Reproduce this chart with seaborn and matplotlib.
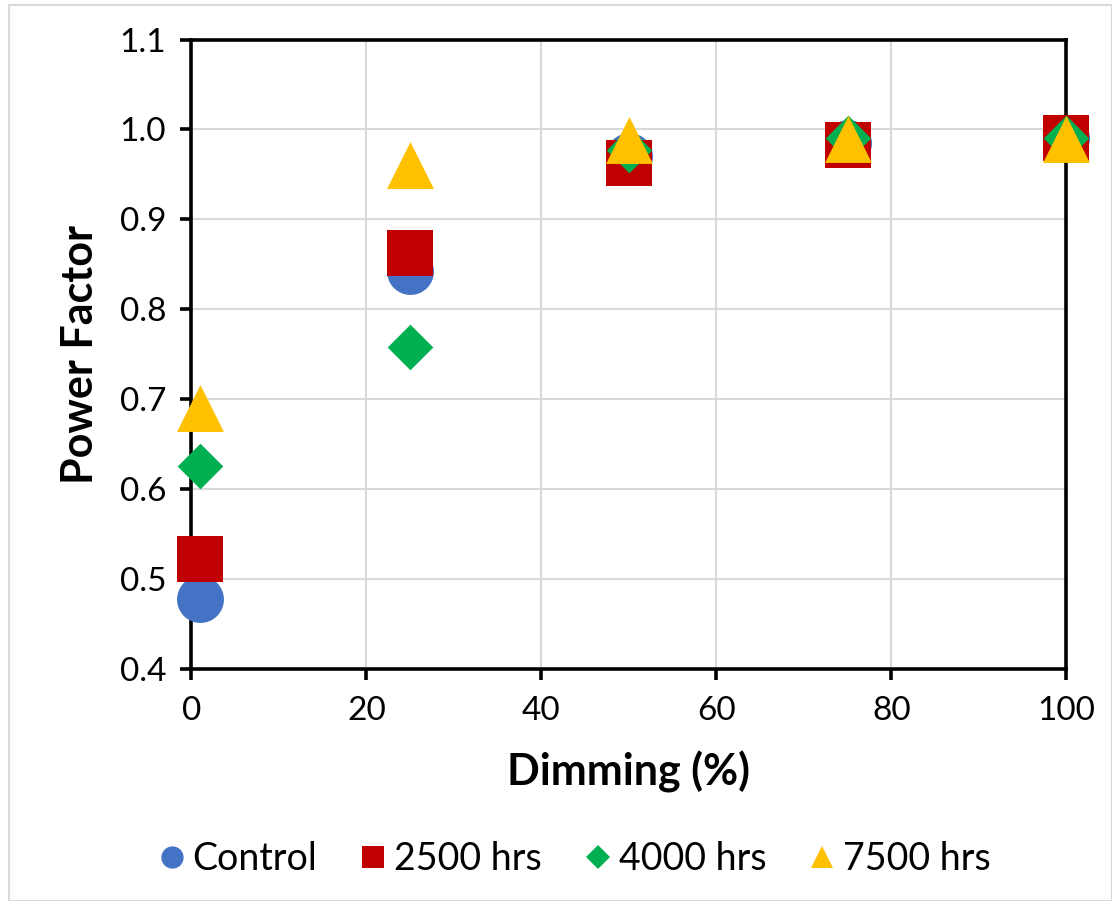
import matplotlib
matplotlib.use("Agg")
import matplotlib.pyplot as plt
from matplotlib.lines import Line2D
from matplotlib.patches import Rectangle
import seaborn as sns
import pandas as pd

# Measured power factor at each dimming level
dimming = [1, 25, 50, 75, 100]
control = [0.477, 0.842, 0.970, 0.985, 0.990]
hrs_2500 = [0.522, 0.862, 0.963, 0.983, 0.991]
hrs_4000 = [0.625, 0.758, 0.977, 0.990, 0.990]
hrs_7500 = [0.690, 0.960, 0.988, 0.989, 0.989]

series_names = ["Control", "2500 hrs", "4000 hrs", "7500 hrs"]
series_values = [control, hrs_2500, hrs_4000, hrs_7500]
colors = ["#4472C4", "#C00000", "#00B050", "#FFC000"]
markers = ["o", "s", "D", "^"]
sizes = [1140, 1140, 540, 1140]

frames = []
for name, vals in zip(series_names, series_values):
    frames.append(pd.DataFrame({"Dimming": dimming, "PF": vals, "Series": name}))
df = pd.concat(frames, ignore_index=True)

sns.set_style("white")
plt.rcParams["font.family"] = ["Lato", "DejaVu Sans"]
plt.rcParams["text.color"] = "black"
plt.rcParams["axes.labelcolor"] = "black"
plt.rcParams["xtick.color"] = "black"
plt.rcParams["ytick.color"] = "black"

fig = plt.figure(figsize=(11.12, 9.01), dpi=100)
ax = fig.add_axes([0.172, 0.258, 0.787, 0.698])

for name, col, mk, sz in zip(series_names, colors, markers, sizes):
    sub = df[df["Series"] == name]
    sns.scatterplot(data=sub, x="Dimming", y="PF", ax=ax, color=col,
                    marker=mk, s=sz, linewidth=0, legend=False, zorder=3,
                    clip_on=False)

ax.set_xlim(0, 100)
ax.set_ylim(0.4, 1.1)
ax.set_xticks([0, 20, 40, 60, 80, 100])
ax.set_yticks([0.4, 0.5, 0.6, 0.7, 0.8, 0.9, 1.0, 1.1])
ax.set_yticklabels([f"{v:.1f}" for v in ax.get_yticks()])
ax.grid(True, color="#d9d9d9", linewidth=1.5, zorder=0)
ax.set_axisbelow(True)

for sp in ax.spines.values():
    sp.set_visible(True)
    sp.set_color("black")
    sp.set_linewidth(2.6)
    sp.set_zorder(2.5)

ax.tick_params(axis="both", which="major", direction="out", length=8,
               width=2.6, colors="black", labelsize=24,
               left=True, bottom=True)
ax.tick_params(axis="y", pad=10)
ax.tick_params(axis="x", pad=12)

ax.set_xlabel("Dimming (%)", fontsize=31, fontweight="bold", labelpad=18,
              color="black")
ax.set_ylabel("Power Factor", fontsize=31, fontweight="bold", labelpad=14,
              color="black")

handles = [Line2D([0], [0], marker=mk, color="none", markerfacecolor=c,
                  markeredgewidth=0, markersize=(12 if mk == "D" else 16))
           for mk, c in zip(markers, colors)]
fig.legend(handles, series_names, loc="center", bbox_to_anchor=(0.516, 0.047),
           ncol=4, frameon=False, fontsize=27, handletextpad=0.15,
           columnspacing=1.1, handlelength=0.8)

# Light outer chart border
fig.patches.append(Rectangle((0.008, 0.0), 0.992, 0.994, transform=fig.transFigure,
                             fill=False, edgecolor="#d9d9d9", linewidth=1.5))

fig.savefig("out.png", dpi=100)
